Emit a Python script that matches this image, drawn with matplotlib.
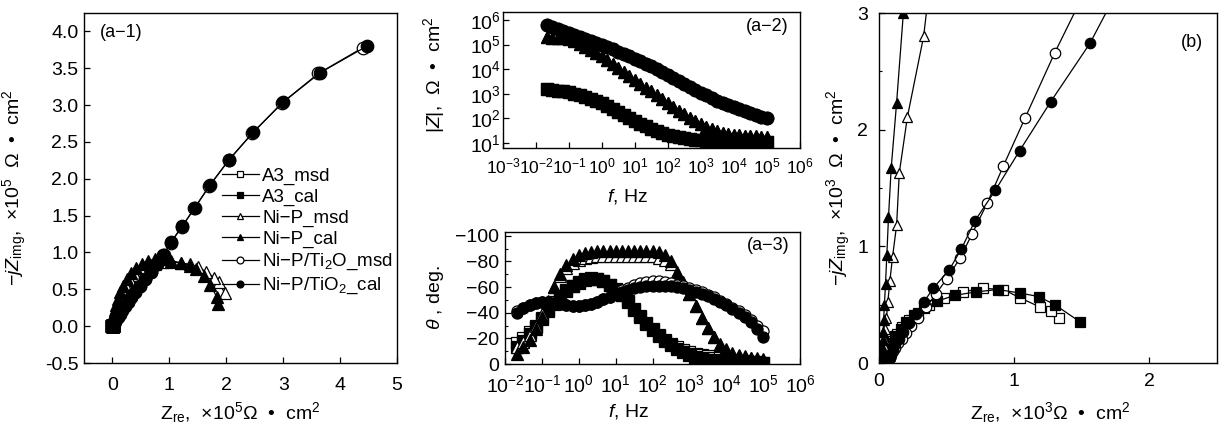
import numpy as np
import matplotlib
matplotlib.use('Agg')
import matplotlib.pyplot as plt
from matplotlib.ticker import MultipleLocator, LogLocator, NullLocator, FormatStrFormatter

plt.rc('font', family=['Liberation Sans', 'DejaVu Sans'], size=14)
plt.rc('mathtext', fontset='custom', rm='Liberation Sans', it='Liberation Sans:italic', bf='Liberation Sans:bold')
plt.rc('axes', linewidth=1.0)
plt.rc('xtick', direction='in'); plt.rc('ytick', direction='in')
plt.rc('xtick.major', width=0.9, size=4); plt.rc('ytick.major', width=0.9, size=4)
plt.rc('ytick.minor', width=0.8, size=2.5)

labels = ['A3_msd', 'A3_cal', 'Ni−P_msd', 'Ni−P_cal', 'Ni−P/Ti$_2$O_msd', 'Ni−P/TiO$_2$_cal']
marks = ['s', 's', '^', '^', 'o', 'o']
faces = ['w', 'k', 'w', 'k', 'w', 'k']

# ---- Bode data, Hz, Ohm cm2, deg (low -> high frequency)
freq = [0.0215, 0.0316, 0.0464, 0.0681, 0.1, 0.147, 0.215, 0.316, 0.464, 0.681,
        1, 1.47, 2.15, 3.16, 4.64, 6.81, 10, 14.7, 21.5, 31.6,
        46.4, 68.1, 100, 147, 215, 316, 464, 681, 1000, 1470,
        2150, 3160, 4640, 6810, 10000, 14700, 21500, 31600, 46400, 68100, 100000]
zmod_a3 = [1510, 1450, 1350, 1260, 1150, 1020, 890, 760, 630, 510,
           410, 316, 240, 182, 138, 105, 79, 62, 48, 38,
           31, 25.7, 21.9, 19, 17, 15.5, 14.5, 13.5, 12.9, 12.6,
           12.3, 12, 12, 11.8, 11.7, 11.6, 11.6, 11.5, 11.5, 11.5, 11.5]
zmod_nip = [1.95e5, 1.9e5, 1.86e5, 1.78e5, 1.62e5, 1.38e5, 1.1e5, 8.3e4, 6.2e4, 4.7e4,
            3.5e4, 2.45e4, 1.7e4, 1.17e4, 7.9e3, 5.5e3, 3.8e3, 2.6e3, 1.8e3, 1.26e3,
            870, 600, 420, 290, 205, 145, 105, 78, 59, 46,
            36, 30, 26, 23.5, 22, 20.5, 19.5, 19, 18.6, 18.2, 18.2]
zmod_tio2 = [6.0e5, 5.0e5, 4.2e5, 3.5e5, 2.9e5, 2.4e5, 2.0e5, 1.66e5, 1.38e5, 1.15e5,
             9.5e4, 7.9e4, 6.5e4, 5.2e4, 4.3e4, 3.4e4, 2.7e4, 2.1e4, 1.7e4, 1.3e4,
             1.0e4, 7.6e3, 5.9e3, 4.5e3, 3.4e3, 2.6e3, 1.95e3, 1.48e3, 1.12e3, 870,
             680, 525, 420, 340, 280, 235, 195, 162, 135, 115, 100]
ph_a3_msd = [-16, -20, -25, -30, -36, -42, -48, -53, -57.5, -61,
             -64, -66, -67, -66.5, -65, -62, -58.5, -54, -49, -43,
             -37.5, -32, -27, -22.5, -18.5, -15.5, -13, -11, -9.5, -8,
             -7, -6, -5, -4.3, -3.6, -3, -2.5, -2, -1.6, -1.3, -1]
ph_a3_cal = [-13, -18, -23.5, -29, -35, -41, -47, -52.5, -57, -60.5,
             -63.5, -65.5, -66.5, -66, -64.5, -61.5, -58, -53.5, -48.5, -42.5,
             -37, -31.5, -26.5, -22, -18, -14.5, -11.5, -9, -7, -5.5,
             -4.5, -3.5, -3, -2.5, -2, -1.7, -1.4, -1.2, -1, -0.8, -0.6]
ph_nip_msd = [-13, -17, -23, -30, -39, -49, -60, -69, -75, -79,
              -81, -82.5, -83.5, -84, -84.5, -84.5, -84.5, -84.5, -84.5, -84.5,
              -84.5, -84, -84, -83, -81.5, -78, -71, -63.5, -54.5, -45,
              -36, -28, -21, -15.5, -11.5, -8.5, -7, -6, -5, -4.5, -4]
ph_nip_cal = [-8, -13, -19, -27, -37, -48, -60, -70, -77, -82,
              -85, -86.5, -87.5, -88, -88.5, -88.5, -88.5, -88.5, -88.5, -88.5,
              -88.5, -88, -88, -87, -85, -80, -72, -64, -55, -45,
              -36, -28, -21, -15, -11, -8, -6.5, -5.5, -4.5, -4, -3.5]
ph_tio2_msd = [-41, -44, -46, -47.5, -48, -48, -47.5, -47, -46, -45.5,
               -45.5, -46, -47, -48.5, -50.5, -52.5, -55, -57.5, -59.5, -61.5,
               -63, -64, -64.5, -64.5, -64, -63, -62, -60.5, -59, -57.5,
               -56, -54, -52, -49.5, -47, -44, -41, -38, -34.5, -30, -26]
ph_tio2_cal = [-40, -43.5, -46, -47.5, -48, -48, -47.5, -47, -46, -45.5,
               -45.5, -46, -47, -48.5, -50.5, -52.5, -54.5, -56.5, -58, -59,
               -60, -60.5, -61, -61, -61, -60.5, -60, -59, -58, -56.5,
               -55, -53, -51, -48.5, -46, -43, -40, -36.5, -32.5, -27.5, -21]

# ---- Nyquist (a-1), x1e5 Ohm cm2
a1_nip_msd_re = [1.97, 1.87, 1.78, 1.65, 1.50, 1.36, 1.20, 1.03, 0.88, 0.74, 0.61, 0.50,
                 0.40, 0.31, 0.24, 0.18, 0.13, 0.09, 0.06, 0.04, 0.025, 0.015, 0.01, 0.005]
a1_nip_msd_im = [0.45, 0.60, 0.66, 0.74, 0.80, 0.84, 0.86, 0.87, 0.87, 0.85, 0.81, 0.76,
                 0.70, 0.63, 0.55, 0.47, 0.39, 0.31, 0.24, 0.18, 0.13, 0.08, 0.05, 0.02]
a1_nip_cal_re = [1.85, 1.83, 1.72, 1.60, 1.46, 1.36, 1.20, 1.03, 0.88, 0.75, 0.63, 0.52,
                 0.42, 0.33, 0.25, 0.18, 0.13, 0.09, 0.06, 0.04, 0.025, 0.015, 0.01, 0.005]
a1_nip_cal_im = [0.30, 0.40, 0.56, 0.68, 0.77, 0.82, 0.86, 0.89, 0.91, 0.91, 0.89, 0.85,
                 0.79, 0.72, 0.64, 0.55, 0.46, 0.37, 0.29, 0.22, 0.16, 0.10, 0.06, 0.02]
a1_tio2_msd_re = [4.40, 3.62, 2.98, 2.46, 2.04, 1.70, 1.44, 1.22, 1.02, 0.89, 0.78, 0.67, 0.57, 0.48,
                  0.40, 0.33, 0.27, 0.22, 0.17, 0.13, 0.10, 0.07, 0.05, 0.035, 0.02, 0.01, 0.005]
a1_tio2_msd_im = [3.78, 3.43, 3.03, 2.62, 2.25, 1.90, 1.60, 1.35, 1.13, 0.96, 0.85, 0.74, 0.64, 0.55,
                  0.47, 0.40, 0.33, 0.27, 0.22, 0.17, 0.13, 0.10, 0.07, 0.05, 0.03, 0.015, 0.005]
a1_tio2_cal_re = [4.47, 3.65, 3.00, 2.47, 2.05, 1.71, 1.45, 1.23, 1.03, 0.90, 0.78, 0.67, 0.57, 0.48,
                  0.40, 0.33, 0.27, 0.22, 0.17, 0.13, 0.10, 0.07, 0.05, 0.035, 0.02, 0.01, 0.005]
a1_tio2_cal_im = [3.80, 3.44, 3.04, 2.63, 2.26, 1.91, 1.61, 1.36, 1.14, 0.97, 0.85, 0.74, 0.64, 0.55,
                  0.47, 0.40, 0.33, 0.27, 0.22, 0.17, 0.13, 0.10, 0.07, 0.05, 0.03, 0.015, 0.005]

# ---- Nyquist (b), x1e3 Ohm cm2
b_a3_msd_re = [1.33, 1.27, 1.19, 1.04, 0.92, 0.77, 0.62, 0.48, 0.37, 0.29, 0.22, 0.17, 0.13, 0.10,
               0.08, 0.06, 0.045, 0.03, 0.02, 0.015, 0.012]
b_a3_msd_im = [0.39, 0.45, 0.48, 0.56, 0.63, 0.64, 0.61, 0.56, 0.50, 0.43, 0.37, 0.31, 0.25, 0.19,
               0.13, 0.09, 0.06, 0.035, 0.015, 0.005, 0.0]
b_a3_cal_re = [1.49, 1.30, 1.18, 1.04, 0.88, 0.72, 0.56, 0.43, 0.33, 0.26, 0.20, 0.16, 0.12, 0.09,
               0.07, 0.05, 0.04, 0.03, 0.02, 0.015, 0.012]
b_a3_cal_im = [0.35, 0.50, 0.57, 0.60, 0.63, 0.61, 0.58, 0.53, 0.47, 0.41, 0.35, 0.29, 0.23, 0.17,
               0.12, 0.08, 0.05, 0.03, 0.015, 0.005, 0.0]
b_nip_msd_re = [0.42, 0.33, 0.21, 0.15, 0.13, 0.10, 0.08, 0.065, 0.055, 0.045, 0.04, 0.035, 0.03,
                0.025, 0.022, 0.02, 0.018]
b_nip_msd_im = [3.7, 2.80, 2.11, 1.63, 1.18, 0.91, 0.70, 0.52, 0.39, 0.29, 0.21, 0.15, 0.10,
                0.07, 0.05, 0.03, 0.015]
b_nip_cal_re = [0.23, 0.18, 0.13, 0.09, 0.07, 0.058, 0.048, 0.04, 0.034, 0.03, 0.026, 0.023, 0.021,
                0.02, 0.019, 0.018, 0.018]
b_nip_cal_im = [4.2, 3.0, 2.23, 1.67, 1.25, 0.93, 0.68, 0.50, 0.37, 0.27, 0.20, 0.14, 0.10,
                0.07, 0.05, 0.03, 0.015]
b_tio2_msd_re = [1.70, 1.30, 1.08, 0.92, 0.80, 0.69, 0.60, 0.50, 0.42, 0.35, 0.29, 0.24, 0.20,
                 0.17, 0.14, 0.12, 0.10, 0.09, 0.08]
b_tio2_msd_im = [3.6, 2.66, 2.10, 1.69, 1.37, 1.11, 0.90, 0.72, 0.59, 0.48, 0.39, 0.32, 0.26,
                 0.21, 0.17, 0.13, 0.10, 0.07, 0.04]
b_tio2_cal_re = [1.95, 1.56, 1.27, 1.04, 0.86, 0.71, 0.61, 0.52, 0.40, 0.33, 0.27, 0.22, 0.18,
                 0.15, 0.12, 0.10, 0.09, 0.08]
b_tio2_cal_im = [3.6, 2.74, 2.24, 1.82, 1.48, 1.22, 0.98, 0.80, 0.64, 0.52, 0.42, 0.34, 0.27,
                 0.21, 0.16, 0.12, 0.08, 0.04]

fig = plt.figure(figsize=(12.19, 4.32), dpi=100)
ax1 = fig.add_axes([0.0689, 0.1597, 0.2568, 0.8102])
ax2 = fig.add_axes([0.4126, 0.6574, 0.2436, 0.3148])
ax3 = fig.add_axes([0.4143, 0.1574, 0.2420, 0.3056])
ax4 = fig.add_axes([0.7211, 0.1597, 0.2773, 0.8102])

# (a-1) Nyquist, large scale
a3_re = [np.array(b_a3_msd_re) / 100, np.array(b_a3_cal_re) / 100]
a3_im = [np.array(b_a3_msd_im) / 100, np.array(b_a3_cal_im) / 100]
nyq1 = [(a3_re[0], a3_im[0]), (a3_re[1], a3_im[1]),
        (a1_nip_msd_re, a1_nip_msd_im), (a1_nip_cal_re, a1_nip_cal_im),
        (a1_tio2_msd_re, a1_tio2_msd_im), (a1_tio2_cal_re, a1_tio2_cal_im)]
for (x, y), m, fc, lab in zip(nyq1, marks, faces, labels):
    ax1.plot(x, y, '-', color='k', lw=0.9, marker=m, ms=9, mfc=fc, mec='k', mew=0.9, label=lab)
ax1.set_xlim(-0.5, 5); ax1.set_ylim(-0.5, 4.25)
ax1.xaxis.set_major_locator(MultipleLocator(1))
ax1.yaxis.set_major_locator(MultipleLocator(0.5))
ax1.yaxis.set_major_formatter(FormatStrFormatter('%.1f'))
ax1.tick_params(axis='x', pad=10); ax1.tick_params(axis='y', pad=4)
ax1.set_xlabel('Z$_{\\rm re}$,  ×10$^5$Ω  •  cm$^2$')
ax1.set_ylabel('−$jZ_{\\rm img}$,  ×10$^5$  Ω  •  cm$^2$')
ax1.xaxis.set_label_coords(0.5, -0.105)
ax1.yaxis.set_label_coords(-0.175, 0.5)
ax1.text(0.05, 0.943, '(a−1)', transform=ax1.transAxes, ha='left', va='center', fontsize=13)
ax1.legend(loc='upper left', bbox_to_anchor=(0.41, 0.585), frameon=False, markerscale=0.55,
           handlelength=2.0, handletextpad=0.15, labelspacing=0.2, borderpad=0, fontsize=13.5)

# (a-2) |Z| vs f
zmods = [zmod_a3, zmod_a3, zmod_nip, zmod_nip, zmod_tio2, zmod_tio2]
for z, m, fc in zip(zmods, marks, faces):
    ax2.plot(freq, z, ls='none', marker=m, ms=9, mfc=fc, mec='k', mew=0.9)
ax2.set_xscale('log'); ax2.set_yscale('log')
ax2.set_xlim(1e-3, 1e6); ax2.set_ylim(6.3, 2.1e6)
ax2.xaxis.set_major_locator(LogLocator(base=10, numticks=15))
ax2.yaxis.set_major_locator(LogLocator(base=10, numticks=15))
ax2.xaxis.set_minor_locator(NullLocator()); ax2.yaxis.set_minor_locator(NullLocator())
ax2.tick_params(axis='x', pad=6, labelsize=12.5); ax2.tick_params(axis='y', pad=1.5)
ax2.set_xlabel('$f$, Hz')
ax2.set_ylabel('|$Z$|,  Ω  •  cm$^2$')
ax2.xaxis.set_label_coords(0.42, -0.29)
ax2.yaxis.set_label_coords(-0.19, 0.54)
ax2.text(0.963, 0.89, '(a−2)', transform=ax2.transAxes, ha='right', va='center', fontsize=13)

# (a-3) phase vs f
phases = [ph_a3_msd, ph_a3_cal, ph_nip_msd, ph_nip_cal, ph_tio2_msd, ph_tio2_cal]
for p, m, fc in zip(phases, marks, faces):
    ax3.plot(freq, p, ls='none', marker=m, ms=8, mfc=fc, mec='k', mew=0.9)
ax3.set_xscale('log')
ax3.set_xlim(1e-2, 1e6); ax3.set_ylim(0, -103)
ax3.xaxis.set_major_locator(LogLocator(base=10, numticks=15))
ax3.xaxis.set_minor_locator(NullLocator())
ax3.yaxis.set_major_locator(MultipleLocator(20))
ax3.yaxis.set_minor_locator(MultipleLocator(10))
ax3.tick_params(axis='x', pad=7); ax3.tick_params(axis='y', pad=4)
ax3.set_xlabel('$f$, Hz')
ax3.set_ylabel('$θ$ , deg.')
ax3.xaxis.set_label_coords(0.42, -0.29)
ax3.yaxis.set_label_coords(-0.2, 0.5)
ax3.text(0.963, 0.9, '(a−3)', transform=ax3.transAxes, ha='right', va='center', fontsize=13)

# (b) Nyquist, high-frequency zoom
nyq2 = [(b_a3_msd_re, b_a3_msd_im), (b_a3_cal_re, b_a3_cal_im),
        (b_nip_msd_re, b_nip_msd_im), (b_nip_cal_re, b_nip_cal_im),
        (b_tio2_msd_re, b_tio2_msd_im), (b_tio2_cal_re, b_tio2_cal_im)]
for (x, y), m, fc in zip(nyq2, marks, faces):
    ax4.plot(x, y, '-', color='k', lw=0.9, marker=m, ms=7.5, mfc=fc, mec='k', mew=0.9)
ax4.set_xlim(0, 2.5); ax4.set_ylim(0, 3)
ax4.xaxis.set_major_locator(MultipleLocator(1))
ax4.yaxis.set_major_locator(MultipleLocator(1))
ax4.yaxis.set_minor_locator(MultipleLocator(0.5))
ax4.tick_params(axis='x', pad=7); ax4.tick_params(axis='y', pad=8)
ax4.set_xlabel('Z$_{\\rm re}$,  ×10$^3$Ω  •  cm$^2$')
ax4.set_ylabel('−$jZ_{\\rm img}$,  ×10$^3$  Ω  •  cm$^2$')
ax4.xaxis.set_label_coords(0.506, -0.105)
ax4.yaxis.set_label_coords(-0.077, 0.5)
ax4.text(0.959, 0.917, '(b)', transform=ax4.transAxes, ha='right', va='center', fontsize=13)

fig.savefig('out.png', dpi=100)
